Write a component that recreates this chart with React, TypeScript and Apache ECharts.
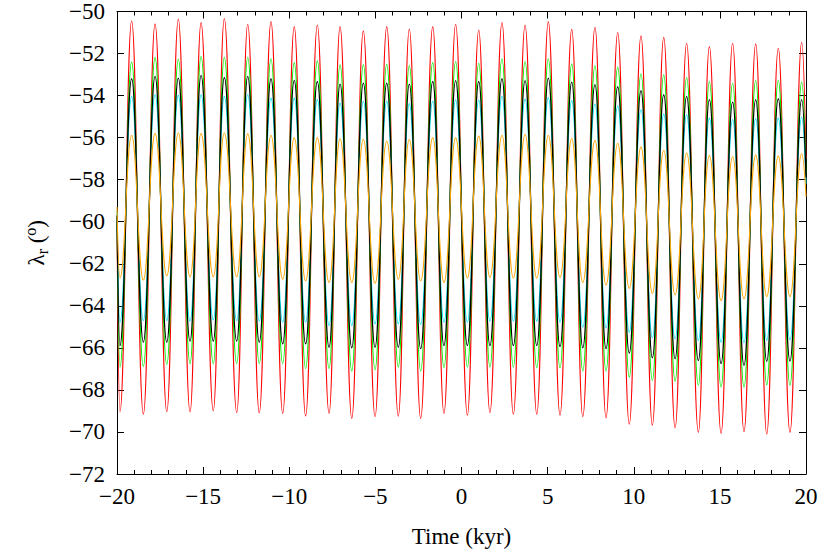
import React, { useEffect, useRef } from "react";
import * as echarts from "echarts";

const peakTimes = [-19.15, -17.79, -16.44, -15.12, -13.77, -12.41, -11.06, -9.71, -8.37, -7.05, -5.7, -4.34, -3.03, -1.67, -0.34, 1.0, 2.35, 3.69, 5.04, 6.4, 7.75, 9.07, 10.42, 11.74, 13.07, 14.39, 15.74, 17.08, 18.39, 19.75];
const troughTimes = [-19.83, -18.47, -17.11, -15.76, -14.41, -13.05, -11.74, -10.38, -9.05, -7.69, -6.37, -5.02, -3.67, -2.37, -1.02, 0.34, 1.65, 3.01, 4.37, 5.72, 7.04, 8.39, 9.74, 11.08, 12.4, 13.75, 15.07, 16.4, 17.72, 19.07];
const startTime = -20;
const endTime = 20;

const redPeaks = [-50.44, -50.59, -50.36, -50.53, -50.33, -50.61, -50.48, -50.72, -50.64, -50.72, -50.92, -50.72, -50.83, -50.72, -50.61, -50.88, -50.52, -50.64, -50.48, -50.85, -50.75, -51.0, -51.16, -51.23, -51.51, -51.67, -51.51, -51.54, -51.75, -51.46];
const redTroughs = [-69.05, -69.16, -69.05, -69.05, -69.0, -69.08, -69.09, -69.12, -69.24, -69.12, -69.36, -69.28, -69.25, -69.36, -69.12, -69.2, -69.08, -69.16, -69.16, -69.2, -69.28, -69.33, -69.63, -69.68, -69.81, -70.02, -70.07, -69.99, -70.1, -70.02];
const greenPeaks = [-52.41, -52.18, -52.27, -52.14, -52.19, -52.19, -52.25, -52.43, -52.35, -52.54, -52.54, -52.51, -52.57, -52.43, -52.38, -52.46, -52.25, -52.38, -52.25, -52.49, -52.57, -52.66, -52.96, -53.01, -53.14, -53.33, -53.41, -53.28, -53.28, -53.36];
const greenTroughs = [-66.91, -66.88, -66.79, -66.75, -66.75, -66.75, -66.75, -66.75, -66.99, -66.99, -67.1, -67.04, -66.91, -67.1, -66.94, -66.91, -66.91, -66.91, -66.94, -66.94, -67.1, -67.1, -67.39, -67.55, -67.58, -67.78, -67.86, -67.86, -67.75, -67.78];
const cyanPeaks = [-54.04, -53.96, -53.99, -53.96, -54.04, -53.96, -54.12, -54.12, -54.19, -54.36, -54.27, -54.27, -54.38, -54.27, -54.21, -54.21, -54.04, -54.17, -54.09, -54.24, -54.4, -54.48, -54.67, -54.88, -54.91, -55.07, -55.14, -55.09, -55.07, -55.03];
const cyanTroughs = [-64.78, -64.7, -64.7, -64.73, -64.67, -64.7, -64.73, -64.78, -64.78, -64.94, -64.94, -64.86, -64.86, -64.89, -64.78, -64.78, -64.73, -64.73, -64.73, -64.78, -65.02, -65.05, -65.26, -65.52, -65.57, -65.65, -65.73, -65.76, -65.65, -65.62];
const blackPeaks = [-53.2, -53.09, -53.17, -53.04, -53.14, -53.09, -53.2, -53.28, -53.33, -53.45, -53.41, -53.41, -53.45, -53.33, -53.29, -53.33, -53.2, -53.29, -53.17, -53.36, -53.48, -53.58, -53.77, -53.96, -54.04, -54.19, -54.31, -54.19, -54.15, -54.19];
const blackTroughs = [-65.89, -65.73, -65.73, -65.68, -65.68, -65.68, -65.73, -65.81, -65.81, -65.97, -66.0, -65.97, -65.97, -66.04, -65.89, -65.89, -65.89, -65.89, -65.89, -65.94, -66.0, -66.04, -66.25, -66.47, -66.52, -66.6, -66.75, -66.83, -66.64, -66.63];
const orangePeaks = [-55.9, -55.81, -55.78, -55.81, -55.78, -55.82, -55.9, -56.01, -56.01, -56.06, -56.09, -56.17, -56.09, -56.01, -56.01, -55.93, -55.9, -55.85, -55.9, -56.04, -56.14, -56.28, -56.45, -56.61, -56.73, -56.85, -56.91, -56.83, -56.88, -56.77];
const orangeTroughs = [-62.68, -62.77, -62.57, -62.62, -62.62, -62.62, -62.62, -62.73, -62.81, -62.89, -62.89, -62.93, -62.73, -62.81, -62.89, -62.68, -62.65, -62.68, -62.68, -62.65, -62.89, -63.01, -63.17, -63.41, -63.48, -63.67, -63.75, -63.67, -63.56, -63.56];

const startValues = { red: -60.0, green: -59.8, cyan: -59.5, black: -59.7, orange: -59.3 };
const endValues = { red: -57.0, green: -57.7, cyan: -58.2, black: -57.9, orange: -58.8 };

const xTicks = { min: -20, max: 20, interval: 5 };
const yTicks = { min: -72, max: -50, interval: 2 };

function buildSeries(start: number, troughs: number[], peaks: number[], end: number) {
  const pts: [number, number][] = [[startTime, start]];
  for (let i = 0; i < troughs.length; i++) {
    pts.push([troughTimes[i], troughs[i]]);
    pts.push([peakTimes[i], peaks[i]]);
  }
  pts.push([endTime, end]);
  return pts;
}

const FONT = "'Liberation Serif', 'DejaVu Serif', serif";
const fmt = (v: number) => String(v).replace("-", "\u2212");

export default function App() {
  const ref = useRef<HTMLDivElement>(null);
  useEffect(() => {
    if (!ref.current) return;
    const chart = echarts.init(ref.current, null, { renderer: "svg" });
    const line = (name: string, color: string, data: [number, number][], width = 1.1) => ({
      name,
      type: "line",
      data,
      showSymbol: false,
      smooth: 0.45,
      smoothMonotone: "x",
      lineStyle: { color, width },
      itemStyle: { color },
      z: 2,
    });
    const xBase = {
      type: "value",
      gridIndex: 0,
      min: xTicks.min,
      max: xTicks.max,
      interval: xTicks.interval,
      splitLine: { show: false },
      axisLine: { show: true, onZero: false, lineStyle: { color: "#000", width: 1 } },
      axisTick: { show: true, inside: true, length: 7, lineStyle: { color: "#000" } },
      minorTick: { show: true, splitNumber: 5, length: 4, lineStyle: { color: "#000" } },
    };
    const yBase = {
      type: "value",
      gridIndex: 0,
      min: yTicks.min,
      max: yTicks.max,
      interval: yTicks.interval,
      splitLine: { show: false },
      axisLine: { show: true, onZero: false, lineStyle: { color: "#000", width: 1 } },
      axisTick: { show: true, inside: true, length: 7, lineStyle: { color: "#000" } },
    };
    chart.setOption({
      animation: false,
      backgroundColor: "#fff",
      grid: { left: 117, right: 24, top: 10, bottom: 79, show: false },
      xAxis: [
        {
          ...xBase,
          position: "bottom",
          axisLabel: { color: "#000", fontFamily: FONT, fontSize: 23, margin: 11, formatter: fmt },
          name: "Time (kyr)",
          nameLocation: "middle",
          nameGap: 51,
          nameTextStyle: { color: "#000", fontFamily: FONT, fontSize: 23 },
        },
        { ...xBase, position: "top", axisLabel: { show: false } },
      ],
      yAxis: [
        {
          ...yBase,
          position: "left",
          axisLabel: { color: "#000", fontFamily: FONT, fontSize: 23, margin: 12, formatter: fmt },
          name: "{l|\u03bb}{s|r}{l| (}{p|o}{l|)}",
          nameLocation: "middle",
          nameGap: 66,
          nameRotate: 90,
          nameTextStyle: {
            color: "#000",
            fontFamily: FONT,
            fontSize: 23,
            rich: {
              l: { fontFamily: FONT, fontSize: 23, color: "#000", lineHeight: 30 },
              s: { fontFamily: FONT, fontSize: 16, color: "#000", lineHeight: 30, padding: [12, 0, 0, 0] },
              p: { fontFamily: FONT, fontSize: 16, color: "#000", lineHeight: 30, padding: [0, 0, 12, 0] },
            },
          },
        },
        { ...yBase, position: "right", axisLabel: { show: false } },
      ],
      series: [
        line("red", "#ff0000", buildSeries(startValues.red, redTroughs, redPeaks, endValues.red)),
        line("green", "#00ee00", buildSeries(startValues.green, greenTroughs, greenPeaks, endValues.green)),
        line("cyan", "#00e5ee", buildSeries(startValues.cyan, cyanTroughs, cyanPeaks, endValues.cyan)),
        line("black", "#000000", buildSeries(startValues.black, blackTroughs, blackPeaks, endValues.black), 1.3),
        line("orange", "#ffa500", buildSeries(startValues.orange, orangeTroughs, orangePeaks, endValues.orange)),
      ],
    });
    return () => chart.dispose();
  }, []);
  return (
    <div
      ref={ref}
      style={{ position: "fixed", left: 0, top: 0, width: 830, height: 553, background: "#fff" }}
    />
  );
}
